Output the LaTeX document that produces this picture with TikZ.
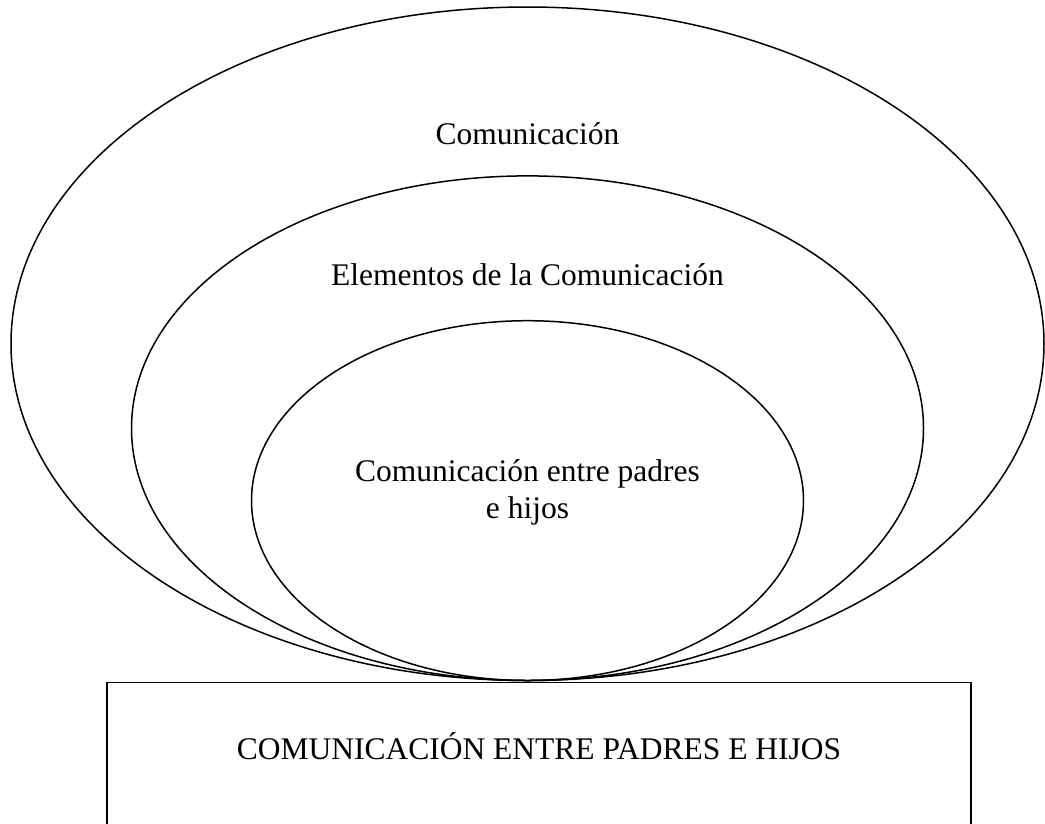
\documentclass[tikz,border=0pt]{standalone}
\usepackage{fontspec}
\setmainfont{Liberation Serif}
\begin{document}
\begin{tikzpicture}[x=1pt,y=-1pt,
  outline/.style={draw=black,line width=1.5pt},
  lbl/.style={anchor=base,inner sep=0pt,font=\fontsize{31.5}{36.5}\selectfont}]
\useasboundingbox[fill=white] (0,0) rectangle (1045,823);
\draw[outline] (527.5,343.75) ellipse [x radius=516.5pt, y radius=336.75pt];
\draw[outline] (527.5,428.2) ellipse [x radius=396pt, y radius=252.3pt];
\draw[outline] (527.5,500.6) ellipse [x radius=276pt, y radius=179.9pt];
\draw[outline] (107,835) -- (107,682.5) -- (971,682.5) -- (971,835);
\node[lbl] (t1) at (527.5,144) {Comunicación};
\node[lbl] (t2) at (527.5,285) {Elementos de la Comunicación};
\node[lbl] (t3a) at (527.5,481.7) {Comunicación entre padres};
\node[lbl] (t3b) at (527.5,518.2) {e hijos};
\node[lbl] (t4) at (539,759) {COMUNICACIÓN ENTRE PADRES E HIJOS};
\end{tikzpicture}
\end{document}
